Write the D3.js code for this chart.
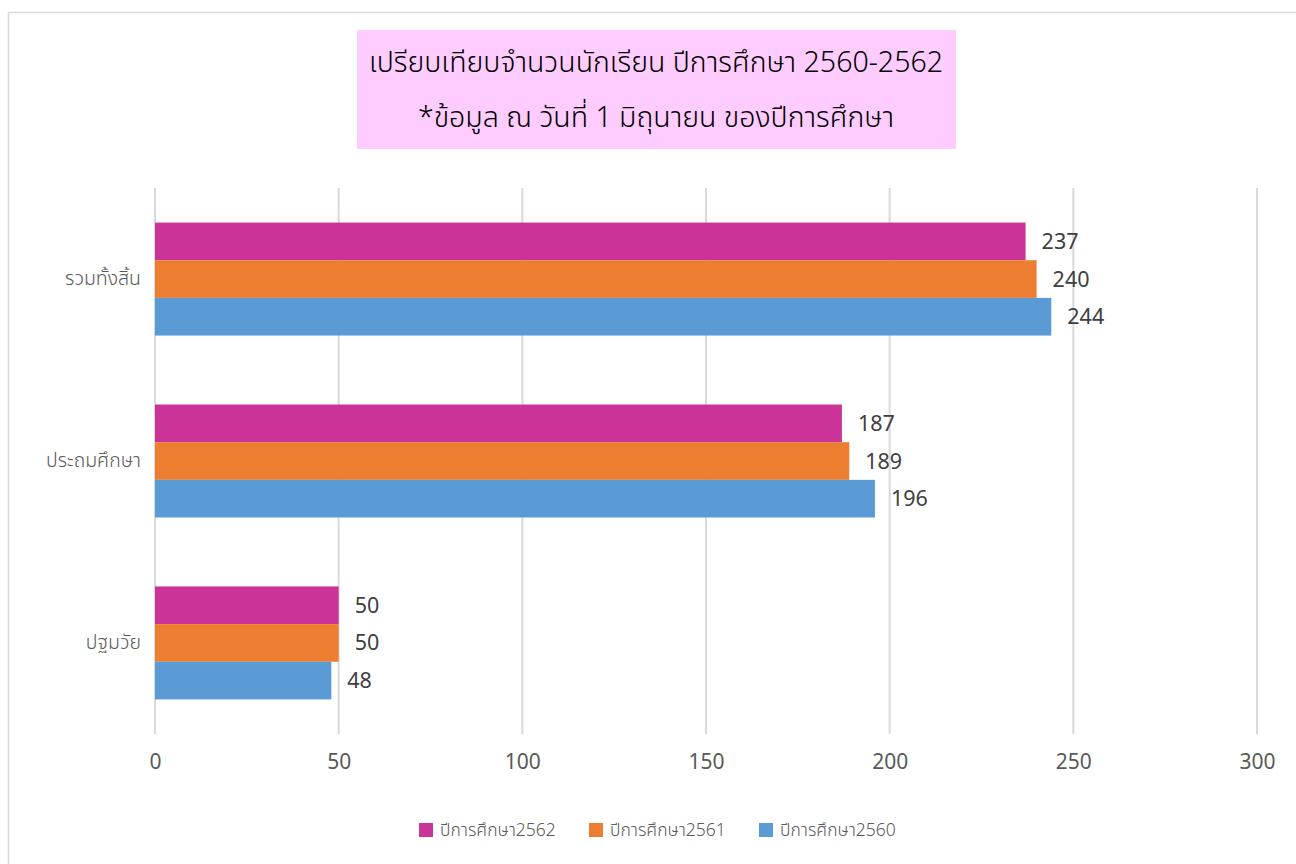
<!DOCTYPE html>
<html>
<head>
<meta charset="utf-8">
<script src="https://cdn.jsdelivr.net/npm/d3@7"></script>
<style>
  body { margin: 0; background: #fff; }
  svg { display: block; }
</style>
</head>
<body>
<svg id="chart" width="1296" height="864"></svg>
<script>
// categories top to bottom
const categories = ["รวมทั้งสิ้น", "ประถมศึกษา", "ปฐมวัย"];
const seriesNames = ["ปีการศึกษา2562", "ปีการศึกษา2561", "ปีการศึกษา2560"];
const values2562 = [237, 187, 50];
const values2561 = [240, 189, 50];
const values2560 = [244, 196, 48];
const xTicks = [0, 50, 100, 150, 200, 250, 300];
const colors = ["#CC3399", "#ED7D31", "#5B9BD5"];
const titleLines = ["เปรียบเทียบจำนวนนักเรียน ปีการศึกษา 2560-2562", "*ข้อมูล ณ วันที่ 1 มิถุนายน ของปีการศึกษา"];

const allValues = [values2562, values2561, values2560];
const font = "'Noto Sans Thai', 'Noto Sans', 'DejaVu Sans', sans-serif";

const svg = d3.select("#chart").attr("font-family", font);

// outer chart border
svg.append("rect")
    .attr("x", 8.5).attr("y", 12.5)
    .attr("width", 1300).attr("height", 900)
    .attr("fill", "#fff")
    .attr("stroke", "#d9d9d9")
    .attr("stroke-width", 1.5);

// title box
svg.append("rect")
    .attr("x", 357).attr("y", 30)
    .attr("width", 599).attr("height", 119)
    .attr("fill", "#FFCCFF");

svg.selectAll("text.title")
    .data(titleLines)
    .enter().append("text")
    .attr("class", "title")
    .attr("x", 656)
    .attr("y", (d, i) => 62 + i * 55)
    .attr("dy", "0.35em")
    .attr("text-anchor", "middle")
    .attr("font-size", 28.5)
    .attr("font-weight", 300)
    .attr("fill", "#000")
    .text(d => d);

const plotLeft = 155, plotRight = 1257, plotTop = 188, plotBottom = 734;

const x = d3.scaleLinear().domain([0, 300]).range([plotLeft, plotRight]);
const y = d3.scaleBand().domain(categories).range([plotTop, plotBottom]).paddingInner(0.379).paddingOuter(0.19);
const ySub = d3.scaleBand().domain(seriesNames).range([0, y.bandwidth()]);

// gridlines
svg.append("g")
    .selectAll("line")
    .data(xTicks)
    .enter().append("line")
    .attr("x1", d => x(d)).attr("x2", d => x(d))
    .attr("y1", plotTop).attr("y2", plotBottom)
    .attr("stroke", "#d9d9d9")
    .attr("stroke-width", 2);

// x axis labels
const xAxis = svg.append("g")
    .attr("transform", "translate(0," + plotBottom + ")")
    .call(d3.axisBottom(x).tickValues(xTicks).tickSize(0).tickPadding(20));
xAxis.select(".domain").remove();
xAxis.selectAll("text")
    .attr("font-family", font)
    .attr("font-size", 21)
    .attr("fill", "#595959");

// category labels
const yAxis = svg.append("g")
    .attr("transform", "translate(" + plotLeft + ",0)")
    .call(d3.axisLeft(y).tickSize(0).tickPadding(14));
yAxis.select(".domain").remove();
yAxis.selectAll("text")
    .attr("font-family", font)
    .attr("font-size", 19.5)
    .attr("font-weight", 300)
    .attr("fill", "#595959");

// bars
seriesNames.forEach(function(name, s) {
    const g = svg.append("g");
    g.selectAll("rect")
        .data(allValues[s])
        .enter().append("rect")
        .attr("x", x(0))
        .attr("y", (d, i) => y(categories[i]) + ySub(name))
        .attr("width", d => x(d) - x(0))
        .attr("height", ySub.bandwidth())
        .attr("fill", colors[s]);
    g.selectAll("text")
        .data(allValues[s])
        .enter().append("text")
        .attr("x", d => x(d) + 16)
        .attr("y", (d, i) => y(categories[i]) + ySub(name) + ySub.bandwidth() / 2)
        .attr("dy", "0.35em")
        .attr("font-size", 21.5)
        .attr("fill", "#404040")
        .text(d => d);
});

// legend
const legendX = [419, 589, 759];
const legend = svg.append("g");
seriesNames.forEach(function(name, s) {
    legend.append("rect")
        .attr("x", legendX[s]).attr("y", 823)
        .attr("width", 14).attr("height", 14)
        .attr("fill", colors[s]);
    legend.append("text")
        .attr("x", legendX[s] + 21)
        .attr("y", 830)
        .attr("dy", "0.35em")
        .attr("font-size", 17.5)
        .attr("font-weight", 300)
        .attr("fill", "#595959")
        .text(name);
});
</script>
</body>
</html>
